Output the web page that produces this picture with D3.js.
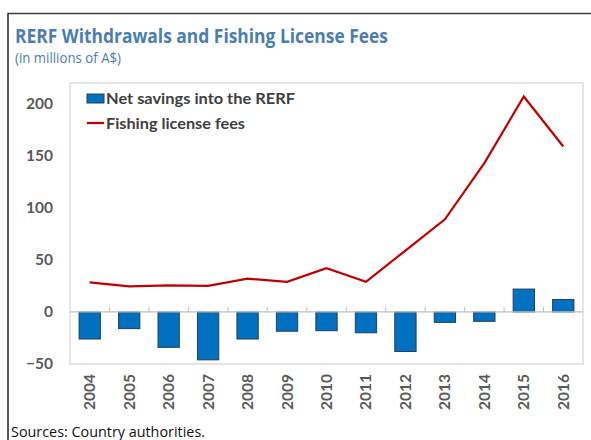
<!DOCTYPE html>
<html>
<head>
<meta charset="utf-8">
<script src="https://cdn.jsdelivr.net/npm/d3@7"></script>
<style>
  html, body { margin: 0; padding: 0; background: #fff; }
  svg { display: block; }
</style>
</head>
<body>
<svg id="chart" width="591" height="440"></svg>
<script>
// Years on the category axis
const years = ["2004","2005","2006","2007","2008","2009","2010","2011","2012","2013","2014","2015","2016"];
// Net savings into the RERF (millions of A$)
const netSavings = [-26, -16, -34, -46, -26, -18.5, -18, -20, -38, -10, -9, 22, 12];
// Fishing license fees (millions of A$)
const licenseFees = [28.5, 24.5, 25.5, 25, 32, 29, 42, 29, 59, 89, 143, 207, 159];
// Value-axis tick labels
const yTicks = [-50, 0, 50, 100, 150, 200];

const svg = d3.select("#chart");
const W = 591, H = 440;
const plot = { left: 70, right: 583, top: 83, bottom: 364 };

const labelFont = "Lato, 'Open Sans', sans-serif";
const titleFont = "'Open Sans', 'Noto Sans', sans-serif";

// frame around the exhibit (top and left rules)
svg.append("line").attr("x1", 8).attr("x2", W).attr("y1", 13.5).attr("y2", 13.5)
  .attr("stroke", "#3f3f3f").attr("stroke-width", 1.5);
svg.append("line").attr("x1", 8).attr("x2", 8).attr("y1", 13).attr("y2", H)
  .attr("stroke", "#222").attr("stroke-width", 1.5);

// title and subtitle
svg.append("text").attr("x", 15).attr("y", 43)
  .attr("font-family", titleFont).attr("font-weight", 700).attr("font-size", 20)
  .attr("fill", "#4a7eb0").attr("textLength", 373).attr("lengthAdjust", "spacingAndGlyphs")
  .text("RERF Withdrawals and Fishing License Fees");
svg.append("text").attr("x", 15).attr("y", 63)
  .attr("font-family", titleFont).attr("font-size", 14)
  .attr("fill", "#4a7eb0").attr("textLength", 106).attr("lengthAdjust", "spacingAndGlyphs")
  .text("(in millions of A$)");

const x = d3.scaleBand().domain(years).range([plot.left, plot.right]).paddingInner(0.46).paddingOuter(0.23);
const xStep = d3.scaleBand().domain(years).range([plot.left, plot.right]);
const y = d3.scaleLinear().domain([-50, 220]).range([plot.bottom, plot.top]);

// plot-area border
svg.append("rect").attr("x", plot.left).attr("y", plot.top)
  .attr("width", plot.right - plot.left).attr("height", plot.bottom - plot.top)
  .attr("fill", "none").attr("stroke", "#d4d4d4").attr("stroke-width", 1.2);

// value axis labels
const yAxis = d3.axisLeft(y).tickValues(yTicks).tickSize(0).tickPadding(17);
const gy = svg.append("g").attr("transform", `translate(${plot.left},0)`).call(yAxis);
gy.select(".domain").remove();
gy.selectAll("text").attr("font-family", labelFont).attr("font-weight", 700)
  .attr("font-size", 15.5).attr("fill", "#595959");

// bars
svg.append("g").selectAll("rect").data(years).join("rect")
  .attr("x", d => x(d))
  .attr("width", x.bandwidth())
  .attr("y", (d, i) => y(Math.max(0, netSavings[i])))
  .attr("height", (d, i) => Math.abs(y(netSavings[i]) - y(0)))
  .attr("fill", "#0070c0").attr("stroke", "#243f5c").attr("stroke-width", 1);

// category axis along zero, tick marks pointing up between categories
const zeroY = y(0);
svg.append("line").attr("x1", plot.left).attr("x2", plot.right).attr("y1", zeroY).attr("y2", zeroY)
  .attr("stroke", "#bfbfbf").attr("stroke-width", 1.2);
svg.append("g").selectAll("line").data(years.slice(1)).join("line")
  .attr("x1", d => xStep(d)).attr("x2", d => xStep(d))
  .attr("y1", zeroY).attr("y2", zeroY - 5)
  .attr("stroke", "#bfbfbf").attr("stroke-width", 1);

// category labels, rotated, below the plot
svg.append("g").selectAll("text").data(years).join("text")
  .attr("transform", d => `translate(${xStep(d) + xStep.bandwidth() / 2 + 5.5},${plot.bottom + 10}) rotate(-90)`)
  .attr("text-anchor", "end")
  .attr("font-family", labelFont).attr("font-weight", 700).attr("font-size", 15.5)
  .attr("fill", "#595959")
  .text(d => d);

// fishing license fee line
const line = d3.line()
  .x((d, i) => xStep(years[i]) + xStep.bandwidth() / 2)
  .y(d => y(d));
svg.append("path").datum(licenseFees).attr("d", line)
  .attr("fill", "none").attr("stroke", "#c00000").attr("stroke-width", 2.2)
  .attr("stroke-linejoin", "miter");

// legend
const lg = svg.append("g").attr("font-family", labelFont).attr("font-weight", 700)
  .attr("font-size", 16).attr("fill", "#404040");
lg.append("rect").attr("x", 87).attr("y", 94).attr("width", 17).attr("height", 9)
  .attr("fill", "#0070c0").attr("stroke", "#243f5c").attr("stroke-width", 1);
lg.append("text").attr("x", 106).attr("y", 104).attr("textLength", 189).attr("lengthAdjust", "spacingAndGlyphs")
  .text("Net savings into the RERF");
lg.append("line").attr("x1", 87).attr("x2", 104).attr("y1", 123).attr("y2", 123)
  .attr("stroke", "#c00000").attr("stroke-width", 2.2);
lg.append("text").attr("x", 106).attr("y", 129).attr("textLength", 139).attr("lengthAdjust", "spacingAndGlyphs")
  .text("Fishing license fees");

// source note
svg.append("text").attr("x", 11).attr("y", 437)
  .attr("font-family", "'Open Sans', 'Noto Sans', sans-serif").attr("font-size", 14)
  .attr("fill", "#111").attr("textLength", 194).attr("lengthAdjust", "spacingAndGlyphs")
  .text("Sources: Country authorities.");
</script>
</body>
</html>
